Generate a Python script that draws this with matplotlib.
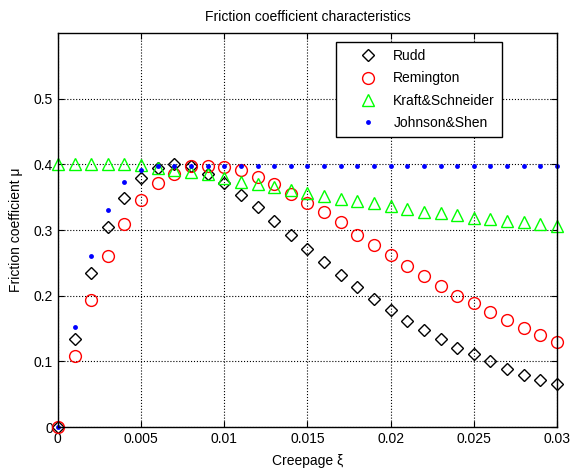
import matplotlib
matplotlib.use("Agg")
import numpy as np
from matplotlib import pyplot as plt

plt.rcParams['font.family'] = ['Liberation Sans', 'DejaVu Sans']

# creepage values 0 .. 0.03, step 0.001
creepage = np.arange(31) * 0.001

rudd = [0.0, 0.134, 0.234, 0.304, 0.349, 0.379, 0.395, 0.400, 0.397, 0.385,
        0.371, 0.354, 0.335, 0.314, 0.293, 0.272, 0.252, 0.232, 0.213, 0.195,
        0.178, 0.162, 0.148, 0.134, 0.121, 0.111, 0.100, 0.089, 0.080, 0.072,
        0.065]
remington = [0.0, 0.109, 0.194, 0.260, 0.309, 0.346, 0.372, 0.386, 0.397, 0.398,
             0.396, 0.391, 0.381, 0.370, 0.355, 0.342, 0.327, 0.312, 0.293, 0.278,
             0.262, 0.246, 0.230, 0.215, 0.200, 0.189, 0.175, 0.163, 0.151, 0.140,
             0.130]
kraft = [0.400, 0.400, 0.400, 0.400, 0.400, 0.399, 0.395, 0.391, 0.388, 0.385,
         0.379, 0.374, 0.370, 0.366, 0.361, 0.356, 0.352, 0.348, 0.345, 0.341,
         0.336, 0.332, 0.328, 0.326, 0.323, 0.319, 0.317, 0.314, 0.312, 0.310,
         0.307]
johnson = [0.0, 0.153, 0.261, 0.331, 0.373, 0.392, 0.397, 0.398, 0.398, 0.398,
           0.398, 0.398, 0.398, 0.398, 0.398, 0.398, 0.398, 0.398, 0.398, 0.398,
           0.398, 0.398, 0.398, 0.398, 0.398, 0.398, 0.398, 0.398, 0.398, 0.398,
           0.398]

fig = plt.figure(figsize=(5.73, 4.73), dpi=100)
ax = fig.add_axes([0.101, 0.097, 0.871, 0.833])

ax.plot(creepage, rudd, 'D', color='k', mfc='none', ms=6, mew=1.0, label='Rudd', clip_on=False)
ax.plot(creepage, remington, 'o', color='r', mfc='none', ms=8.5, mew=1.0, label='Remington', clip_on=False)
ax.plot(creepage, kraft, '^', color=(0, 1, 0), mfc='none', ms=9, mew=1.0, label='Kraft&Schneider', clip_on=False)
ax.plot(creepage, johnson, 'o', color='b', ms=3.5, mew=0, label='Johnson&Shen', clip_on=False)

ax.set_xlim(0, 0.03)
ax.set_ylim(0, 0.6)
ax.set_xticks([0, 0.005, 0.01, 0.015, 0.02, 0.025, 0.03])
ax.set_xticklabels(['0', '0.005', '0.01', '0.015', '0.02', '0.025', '0.03'])
ax.set_yticks([0, 0.1, 0.2, 0.3, 0.4, 0.5])
ax.set_yticklabels(['0', '0.1', '0.2', '0.3', '0.4', '0.5'])
ax.tick_params(direction='in', top=True, right=True, labelsize=10, length=4)
ax.grid(True, color='k', linestyle=':', linewidth=0.8)
for s in ax.spines.values():
    s.set_linewidth(1.0)

ax.set_title("Friction coefficient characteristics", fontsize=10, pad=9)
ax.set_xlabel("Creepage ξ", fontsize=10, labelpad=6)
ax.set_ylabel("Friction coefficient μ", fontsize=10, labelpad=8)

leg = ax.legend(loc='upper right', bbox_to_anchor=(0.890, 0.977), borderaxespad=0,
                fancybox=False, edgecolor='k', framealpha=1, fontsize=10,
                handlelength=3.6, handletextpad=0.0, labelspacing=0.6, borderpad=0.5)
leg.get_frame().set_linewidth(1.0)

fig.savefig("out.png", dpi=100)
